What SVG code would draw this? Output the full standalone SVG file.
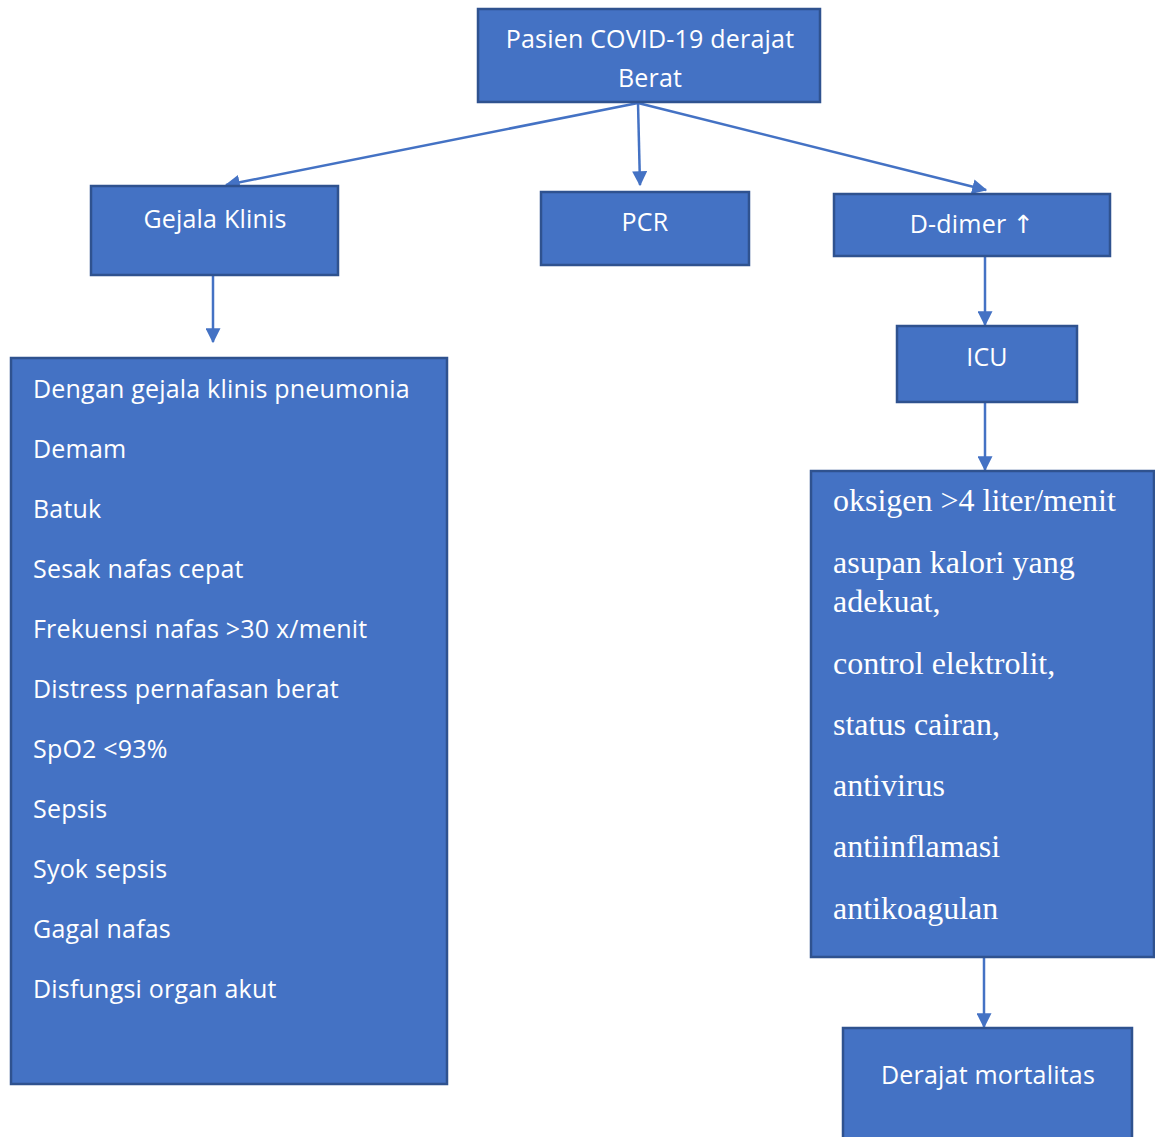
<svg xmlns="http://www.w3.org/2000/svg" width="1155" height="1137" viewBox="0 0 1155 1137">
<style>
.box{fill:#4472C4;stroke:#2F528F;stroke-width:2.5}
.t{font-family:"Open Sans","Noto Sans","DejaVu Sans",sans-serif;font-size:25px;letter-spacing:0.2px;fill:#fff}
.c{text-anchor:middle}
.s{font-family:"Liberation Serif","Times New Roman",serif;font-size:32px;fill:#fff}
.ln{stroke:#4472C4;stroke-width:2.5;fill:none;marker-end:url(#ah)}
</style>
<defs>
<marker id="ah" markerWidth="6" markerHeight="6" refX="5.5" refY="3" orient="auto" markerUnits="strokeWidth">
<path d="M0,0 L6,3 L0,6 Z" fill="#4472C4"/>
</marker>
</defs>
<rect width="1155" height="1137" fill="#fff"/>
<g id="connectors">
<line class="ln" x1="638" y1="103" x2="226" y2="185"/>
<line class="ln" x1="638" y1="103" x2="640" y2="185"/>
<line class="ln" x1="638" y1="103" x2="986" y2="190"/>
<line class="ln" x1="213" y1="275" x2="213" y2="342"/>
<line class="ln" x1="985" y1="256" x2="985" y2="325"/>
<line class="ln" x1="985" y1="402" x2="985" y2="470"/>
<line class="ln" x1="984" y1="957" x2="984" y2="1027"/>
</g>
<g id="node-pasien">
<rect class="box" x="478" y="9" width="342" height="93"/>
<text class="t c" x="650" y="48">Pasien COVID-19 derajat</text>
<text class="t c" x="650" y="87">Berat</text>
</g>
<g id="node-gejala">
<rect class="box" x="91" y="186" width="247" height="89"/>
<text class="t c" x="215" y="228">Gejala Klinis</text>
</g>
<g id="node-pcr">
<rect class="box" x="541" y="192" width="208" height="73"/>
<text class="t c" x="645" y="231">PCR</text>
</g>
<g id="node-ddimer">
<rect class="box" x="834" y="194" width="276" height="62"/>
<text class="t c" x="972" y="233">D-dimer ↑</text>
</g>
<g id="node-icu">
<rect class="box" x="897" y="326" width="180" height="76"/>
<text class="t c" x="987" y="366">ICU</text>
</g>
<g id="node-gejala-list">
<rect class="box" x="11" y="358" width="436" height="726"/>
<text class="t" x="33" y="398">Dengan gejala klinis pneumonia</text>
<text class="t" x="33" y="458">Demam</text>
<text class="t" x="33" y="518">Batuk</text>
<text class="t" x="33" y="578">Sesak nafas cepat</text>
<text class="t" x="33" y="638">Frekuensi nafas &gt;30 x/menit</text>
<text class="t" x="33" y="698">Distress pernafasan berat</text>
<text class="t" x="33" y="758">SpO2 &lt;93%</text>
<text class="t" x="33" y="818">Sepsis</text>
<text class="t" x="33" y="878">Syok sepsis</text>
<text class="t" x="33" y="938">Gagal nafas</text>
<text class="t" x="33" y="998">Disfungsi organ akut</text>
</g>
<g id="node-terapi">
<rect class="box" x="811" y="471" width="343" height="486"/>
<text class="s" x="833" y="511">oksigen &gt;4 liter/menit</text>
<text class="s" x="833" y="573">asupan kalori yang</text>
<text class="s" x="833" y="612">adekuat,</text>
<text class="s" x="833" y="674">control elektrolit,</text>
<text class="s" x="833" y="735">status cairan,</text>
<text class="s" x="833" y="796">antivirus</text>
<text class="s" x="833" y="857">antiinflamasi</text>
<text class="s" x="833" y="919">antikoagulan</text>
</g>
<g id="node-mortalitas">
<rect class="box" x="843" y="1028" width="289" height="120"/>
<text class="t c" x="988" y="1084">Derajat mortalitas</text>
</g>
</svg>
